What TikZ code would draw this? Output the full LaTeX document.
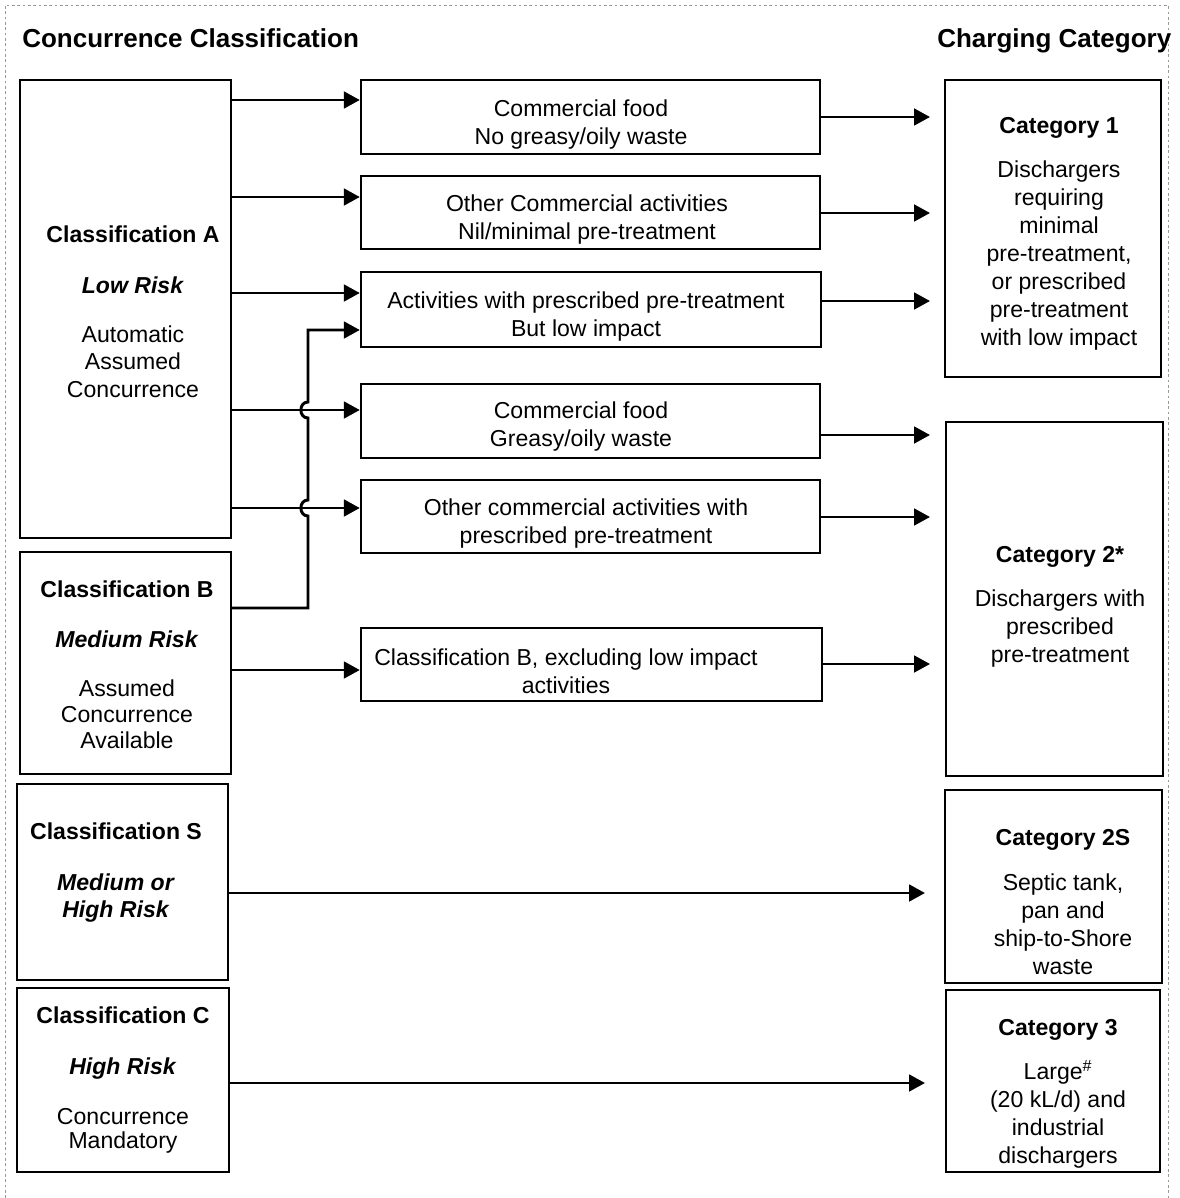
\documentclass[tikz,border=0pt]{standalone}
\usepackage{fontspec}
\setmainfont{Liberation Sans}
\usetikzlibrary{arrows.meta,calc}
\newcommand{\bodyfont}{\fontsize{17.3}{20.5}\selectfont}
\newcommand{\catfont}{\fontsize{17.3}{21}\selectfont}
\newcommand{\headfont}{\fontsize{19.5}{23}\selectfont\bfseries}
\begin{document}
\begin{tikzpicture}[x=0.75pt,y=-0.75pt,
  box/.style={draw,line width=1.8pt,inner sep=0pt,rectangle},
  txt/.style={align=center,inner sep=0pt,font=\bodyfont},
  cattxt/.style={align=center,inner sep=0pt,font=\catfont},
  head/.style={anchor=west,inner sep=0pt,font=\headfont},
  arr/.style={line width=2.2pt,-{Triangle[length=12pt,width=12.5pt]}},
  frame/.style={gray!80,line width=0.6pt,dash pattern=on 2pt off 2pt}]
\useasboundingbox (0,0) rectangle (1179,1198);
\draw[frame] (5,1198) -- (5,5) -- (1168,5) -- (1168,1198);

% headers
\node[head] (h1) at (22,38) {Concurrence Classification};
\node[head] (h2) at (937,41) {Charging Category};

% left boxes
\node[box,minimum width=158.25pt,minimum height=343.5pt] (A) at (125.5,309) {};
\node[box,minimum width=158.25pt,minimum height=166.5pt] (B) at (125.5,663) {};
\node[box,minimum width=158.25pt,minimum height=147pt] (S) at (122.5,882) {};
\node[box,minimum width=159pt,minimum height=138pt] (C) at (123,1080) {};

\node[txt] (tA) at (133,311.5) {\textbf{Classification A}\\[17.75pt]\textbf{\textit{Low Risk}}\\[16.5pt]Automatic\\Assumed\\Concurrence};
\node[txt] (tB) at (127,665) {\textbf{Classification B}\\[17pt]\textbf{\textit{Medium Risk}}\\[16.5pt]Assumed\\[-1pt]Concurrence\\[-1pt]Available};
\node[txt] (tS) at (116,872.5) {\textbf{Classification S}\\[17.75pt]\textbf{\textit{Medium or}}\\\textbf{\textit{High Risk}}};
\node[txt] (tC) at (123,1080) {\textbf{Classification C}\\[17.75pt]\textbf{\textit{High Risk}}\\[17pt]Concurrence\\[-3pt]Mandatory};

% middle boxes
\node[box,minimum width=344.25pt,minimum height=55.5pt] (M1) at (590.5,117) {};
\node[box,minimum width=344.25pt,minimum height=54.75pt] (M2) at (590.5,212.5) {};
\node[box,minimum width=345pt,minimum height=56.25pt] (M3) at (591,309.5) {};
\node[box,minimum width=344.25pt,minimum height=55.5pt] (M4) at (590.5,421) {};
\node[box,minimum width=344.25pt,minimum height=54.75pt] (M5) at (590.5,516.5) {};
\node[box,minimum width=345.75pt,minimum height=54.75pt] (M6) at (591.5,664.5) {};

\node[cattxt] (tM1) at (581,125) {Commercial food\\No greasy/oily waste};
\node[cattxt] (tM2) at (587,220) {Other Commercial activities\\Nil/minimal pre-treatment};
\node[cattxt] (tM3) at (586,317) {Activities with prescribed pre-treatment\\But low impact};
\node[cattxt] (tM4) at (581,427) {Commercial food\\Greasy/oily waste};
\node[cattxt] (tM5) at (586,524) {Other commercial activities with\\prescribed pre-treatment};
\node[cattxt] (tM6) at (566,671) {Classification B, excluding low impact\\activities};

% right boxes
\node[box,minimum width=162pt,minimum height=222.75pt] (K1) at (1053,228.5) {};
\node[box,minimum width=162.75pt,minimum height=265.5pt] (K2) at (1054.5,599) {};
\node[box,minimum width=162.75pt,minimum height=144.75pt] (K2S) at (1053.5,886.5) {};
\node[box,minimum width=160.5pt,minimum height=136.5pt] (K3) at (1053,1081) {};

\node[cattxt] (tK1) at (1059,234) {\textbf{Category 1}\\[12pt]Dischargers\\requiring\\minimal\\pre-treatment,\\or prescribed\\pre-treatment\\with low impact};
\node[cattxt] (tK2) at (1060,607) {\textbf{Category 2*}\\[12.5pt]Dischargers with\\prescribed\\pre-treatment};
\node[cattxt] (tK2S) at (1063,902) {\textbf{Category 2S}\\[12.5pt]Septic tank,\\pan and\\ship-to-Shore\\waste};
\node[cattxt] (tK3) at (1058,1094) {\textbf{Category 3}\\[12pt]Large\textsuperscript{\#}\\(20 kL/d) and\\industrial\\dischargers};

% free ends
\coordinate (e1) at (930,117);
\coordinate (e2) at (930,213);
\coordinate (e3) at (930,301);
\coordinate (e4) at (930,435);
\coordinate (e5) at (930,517);
\coordinate (e6) at (930,664);
\coordinate (eS) at (925,893);
\coordinate (eC) at (925,1083);

% left -> middle
\draw[arr] (A.east |- 0,100) -- (M1.west |- 0,100);
\draw[arr] (A.east |- 0,197) -- (M2.west |- 0,197);
\draw[arr] (A.east |- 0,293) -- (M3.west |- 0,293);
\draw[arr] (A.east |- 0,410) -- (M4.west |- 0,410);
\draw[arr] (A.east |- 0,508) -- (M5.west |- 0,508);
\draw[arr] (B.east |- 0,670) -- (M6.west |- 0,670);
\draw[arr] (B.east |- 0,608) -- (308,608) -- (308,516)
  .. controls (298.5,516) and (298.5,500) .. (308,500) -- (308,418)
  .. controls (298.5,418) and (298.5,402) .. (308,402) -- (308,330)
  -- (M3.west |- 0,330);
\draw[arr] (S.east |- eS) -- (eS);
\draw[arr] (C.east |- eC) -- (eC);

% middle -> right
\draw[arr] (M1.east |- e1) -- (e1);
\draw[arr] (M2.east |- e2) -- (e2);
\draw[arr] (M3.east |- e3) -- (e3);
\draw[arr] (M4.east |- e4) -- (e4);
\draw[arr] (M5.east |- e5) -- (e5);
\draw[arr] (M6.east |- e6) -- (e6);
\end{tikzpicture}
\end{document}
